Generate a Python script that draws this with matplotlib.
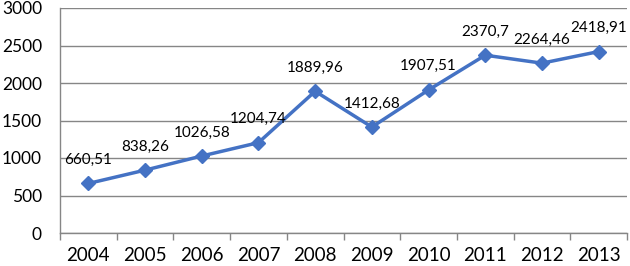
import matplotlib
matplotlib.use("Agg")
import matplotlib.pyplot as plt
import numpy as np

years = ["2004", "2005", "2006", "2007", "2008", "2009", "2010", "2011", "2012", "2013"]
values = [660.51, 838.26, 1026.58, 1204.74, 1889.96, 1412.68, 1907.51, 2370.7, 2264.46, 2418.91]
labels = ["660,51", "838,26", "1026,58", "1204,74", "1889,96", "1412,68", "1907,51", "2370,7", "2264,46", "2418,91"]
yticks = [0, 500, 1000, 1500, 2000, 2500, 3000]

plt.rcParams['font.family'] = ['Lato', 'DejaVu Sans']

fig = plt.figure(figsize=(6.3, 2.66), dpi=100)
ax = fig.add_axes([60/630, 1 - 233/266, 567/630, 225/266])

x = np.arange(len(years))
ax.plot(x, values, color='#4472C4', linewidth=2.5, marker='D', markersize=7, zorder=3)
for xi, v, lab in zip(x, values, labels):
    ax.annotate(lab, (xi, v), xytext=(0, 17), textcoords='offset points',
                ha='center', va='center', fontsize=11, color='#000000')

ax.set_xlim(-0.5, len(years) - 0.5)
ax.set_ylim(0, 3000)
ax.set_yticks(yticks)
ax.set_yticklabels([str(t) for t in yticks], fontsize=12.5)
ax.set_xticks(x)
ax.set_xticklabels(years, fontsize=13.5)
ax.set_xticks(np.arange(-0.5, len(years)), minor=True)
ax.tick_params(axis='x', which='major', length=0, pad=10)
ax.tick_params(axis='x', which='minor', length=5, color='#868686', width=1)
ax.tick_params(axis='y', length=0, pad=13)
ax.yaxis.grid(True, color='#868686', linewidth=1)
ax.set_axisbelow(True)
for s in ['top', 'right']:
    ax.spines[s].set_visible(False)
for s in ['left', 'bottom']:
    ax.spines[s].set_color('#868686')
    ax.spines[s].set_linewidth(1)

fig.savefig("out.png", dpi=100)
